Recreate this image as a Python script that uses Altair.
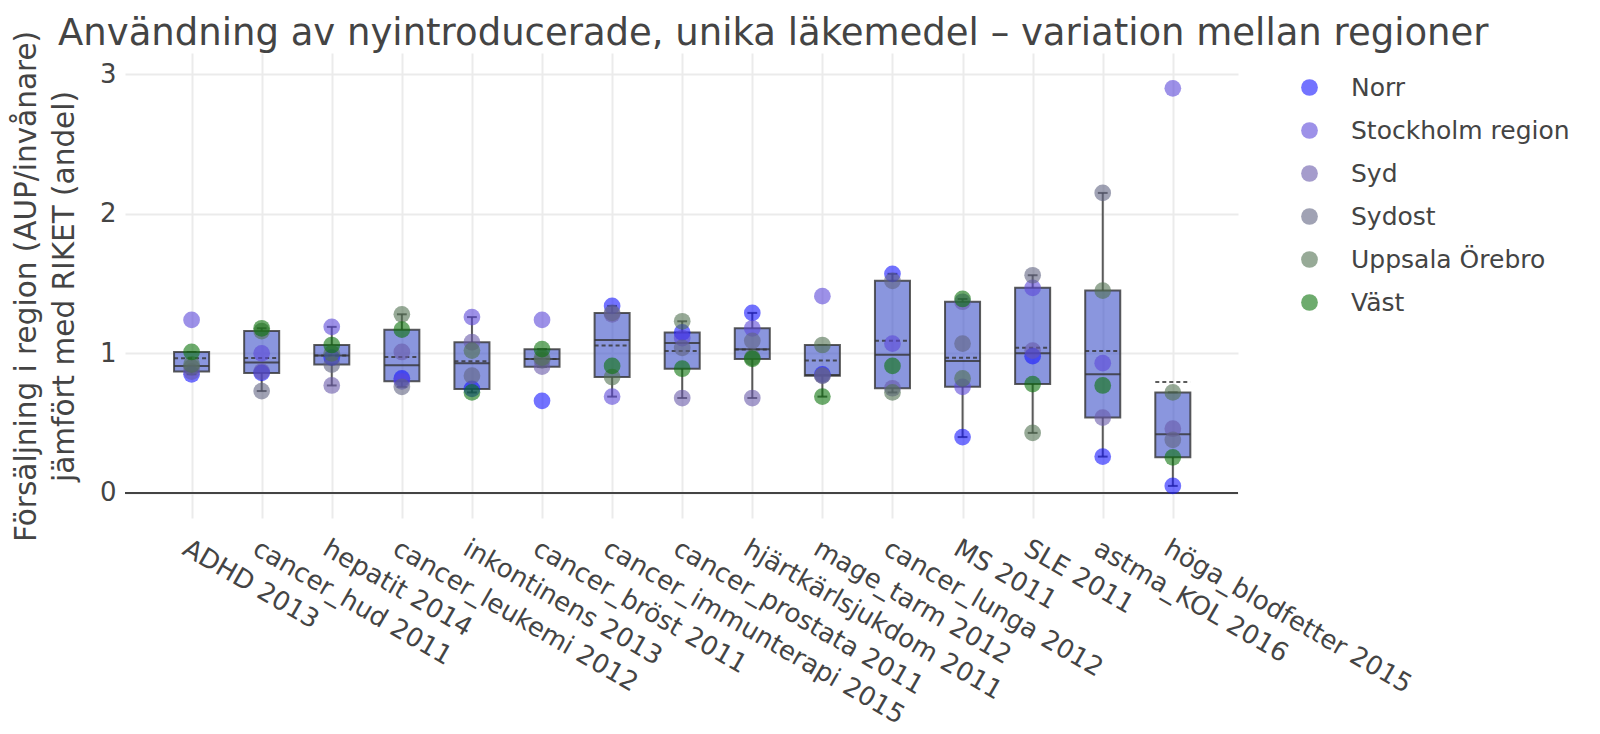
import altair as alt
import numpy as np
import pandas as pd

title_text = "Användning av nyintroducerade, unika läkemedel – variation mellan regioner"
categories = [
    "ADHD 2013", "cancer_hud 2011", "hepatit 2014", "cancer_leukemi 2012",
    "inkontinens 2013", "cancer_bröst 2011", "cancer_immunterapi 2015",
    "cancer_prostata 2011", "hjärtkärlsjukdom 2011", "mage_tarm 2012",
    "cancer_lunga 2012", "MS 2011", "SLE 2011", "astma_KOL 2016",
    "höga_blodfetter 2015",
]
regions = ["Norr", "Stockholm region", "Syd", "Sydost", "Uppsala Örebro", "Väst"]

norr =      [0.85, 0.86, 0.97, 0.82, 0.745, 0.66, 1.34, 1.15, 1.29, 0.85, 1.57, 0.40, 0.98, 0.26, 0.05]
stockholm = [1.24, 1.00, 1.19, 0.80, 1.26, 1.24, 0.69, 1.11, 1.18, 1.41, 1.07, 0.76, 1.47, 0.93, 2.90]
syd =       [0.87, 0.87, 0.77, 1.01, 1.08, 0.905, 1.28, 0.68, 0.68, 0.84, 0.75, 1.37, 1.02, 0.54, 0.46]
sydost =    [0.90, 0.73, 0.92, 0.76, 0.84, 0.95, 1.29, 1.04, 1.09, 0.84, 1.52, 1.07, 1.56, 2.15, 0.38]
uppsala =   [0.92, 1.16, 1.00, 1.28, 1.02, 0.97, 0.83, 1.23, 0.97, 1.06, 0.72, 0.82, 0.43, 1.45, 0.72]
vast =      [1.01, 1.18, 1.06, 1.17, 0.72, 1.03, 0.91, 0.89, 0.96, 0.69, 0.91, 1.39, 0.78, 0.77, 0.255]

region_colors = ["#1616ff", "#5c48d9", "#695aaa", "#616482", "#527152", "#0c730c"]

series = [norr, stockholm, syd, sydost, uppsala, vast]

rows = []
for r, vals in zip(regions, series):
    for i, v in enumerate(vals):
        rows.append({"region": r, "idx": i, "value": v})
points = pd.DataFrame(rows)

stat_rows = []
for i in range(len(categories)):
    v = np.array([s[i] for s in series])
    q1 = float(np.percentile(v, 25, method="hazen"))
    q3 = float(np.percentile(v, 75, method="hazen"))
    iqr = q3 - q1
    stat_rows.append({
        "idx": i,
        "q1": q1, "q3": q3,
        "med": float(np.median(v)), "mean": float(v.mean()),
        "lo": float(v[v >= q1 - 1.5 * iqr].min()),
        "hi": float(v[v <= q3 + 1.5 * iqr].max()),
    })
stats = pd.DataFrame(stat_rows)

FONT = "DejaVu Sans"
TXT = "#444444"

xscale = alt.Scale(domain=[-0.95, 14.93], nice=False, zero=False)
yscale = alt.Scale(domain=[-0.18, 3.153], nice=False, zero=False)

label_expr = "[" + ",".join("'" + c + "'" for c in categories) + "][datum.value]"

xaxis = alt.Axis(
    values=list(range(len(categories))), labelExpr=label_expr, title=None,
    grid=True, gridColor="#ebebeb", gridWidth=2, ticks=False, domain=False,
    labelAngle=30, labelAlign="left", labelBaseline="middle",
    labelPadding=28, labelOffset=-7, labelFont=FONT, labelFontSize=26,
    labelColor=TXT, labelOverlap=False, labelFlush=False, labelBound=False,
    labelLimit=0,
)
yaxis = alt.Axis(
    values=[0, 1, 2, 3], format="d",
    title=["Försäljning i region (AUP/invånare)", "jämfört med RIKET (andel)"],
    titleFont=FONT, titleFontSize=29.5, titleFontWeight="normal", titleColor=TXT,
    titleLineHeight=38, titleAngle=-90, titleAlign="center", titleBaseline="top",
    titleX=-113, titleY=233, titleLimit=2000,
    grid=True, gridColor="#ebebeb", gridWidth=2, ticks=False, domain=False,
    labelFont=FONT, labelFontSize=26, labelColor=TXT, labelPadding=9,
)

base = alt.Chart(stats).transform_calculate(
    x0="datum.idx - 0.25", x1="datum.idx + 0.25",
    c0="datum.idx - 0.07", c1="datum.idx + 0.07",
)

zero = alt.Chart(pd.DataFrame({"v": [0]})).mark_rule(color=TXT, strokeWidth=2).encode(
    y=alt.Y("v:Q", scale=yscale, axis=yaxis)
)

line_style = dict(color="#333333", strokeWidth=2, opacity=0.8)

whisk_lo = base.mark_rule(**line_style).encode(
    x=alt.X("idx:Q", scale=xscale, axis=xaxis), y=alt.Y("lo:Q", scale=yscale), y2="q1:Q"
)
whisk_hi = base.mark_rule(**line_style).encode(
    x=alt.X("idx:Q", scale=xscale), y=alt.Y("q3:Q", scale=yscale), y2="hi:Q"
)
cap_lo = base.mark_rule(**line_style).encode(
    x=alt.X("c0:Q", scale=xscale), x2="c1:Q", y=alt.Y("lo:Q", scale=yscale)
)
cap_hi = base.mark_rule(**line_style).encode(
    x=alt.X("c0:Q", scale=xscale), x2="c1:Q", y=alt.Y("hi:Q", scale=yscale)
)
box = base.mark_rect(
    fill="#3c50c8", fillOpacity=0.6, stroke="#333333", strokeWidth=2, strokeOpacity=0.8
).encode(
    x=alt.X("x0:Q", scale=xscale), x2="x1:Q", y=alt.Y("q1:Q", scale=yscale), y2="q3:Q"
)
median = base.mark_rule(**line_style).encode(
    x=alt.X("x0:Q", scale=xscale), x2="x1:Q", y=alt.Y("med:Q", scale=yscale)
)
mean = base.mark_rule(strokeDash=[4, 3], **line_style).encode(
    x=alt.X("x0:Q", scale=xscale), x2="x1:Q", y=alt.Y("mean:Q", scale=yscale)
)

pts = alt.Chart(points).mark_circle(size=280, opacity=0.6).encode(
    x=alt.X("idx:Q", scale=xscale),
    y=alt.Y("value:Q", scale=yscale),
    color=alt.Color(
        "region:N",
        scale=alt.Scale(domain=regions, range=region_colors),
        legend=alt.Legend(
            title=None, orient="none", legendX=1172, legendY=22, padding=0,
            labelFont=FONT, labelFontSize=25, labelColor=TXT, labelOffset=29,
            labelLimit=0, symbolType="circle", symbolSize=280, symbolOpacity=0.6,
            symbolStrokeWidth=0, rowPadding=17,
        ),
    ),
)

title_mark = alt.Chart(pd.DataFrame({"t": [title_text]})).mark_text(
    align="left", baseline="alphabetic", font=FONT, fontSize=37, color=TXT
).encode(text="t:N", x=alt.value(-67), y=alt.value(-8))

chart = alt.layer(
    zero, whisk_lo, whisk_hi, cap_lo, cap_hi, box, median, mean, pts, title_mark
).properties(
    width=1113, height=465,
    autosize=alt.AutoSizeParams(type="none"),
    padding={"left": 117, "top": 45, "right": 339, "bottom": 214},
).configure(background="white").configure_view(stroke=None)

chart.save("out.html", embed_options={"renderer": "svg", "actions": False})
